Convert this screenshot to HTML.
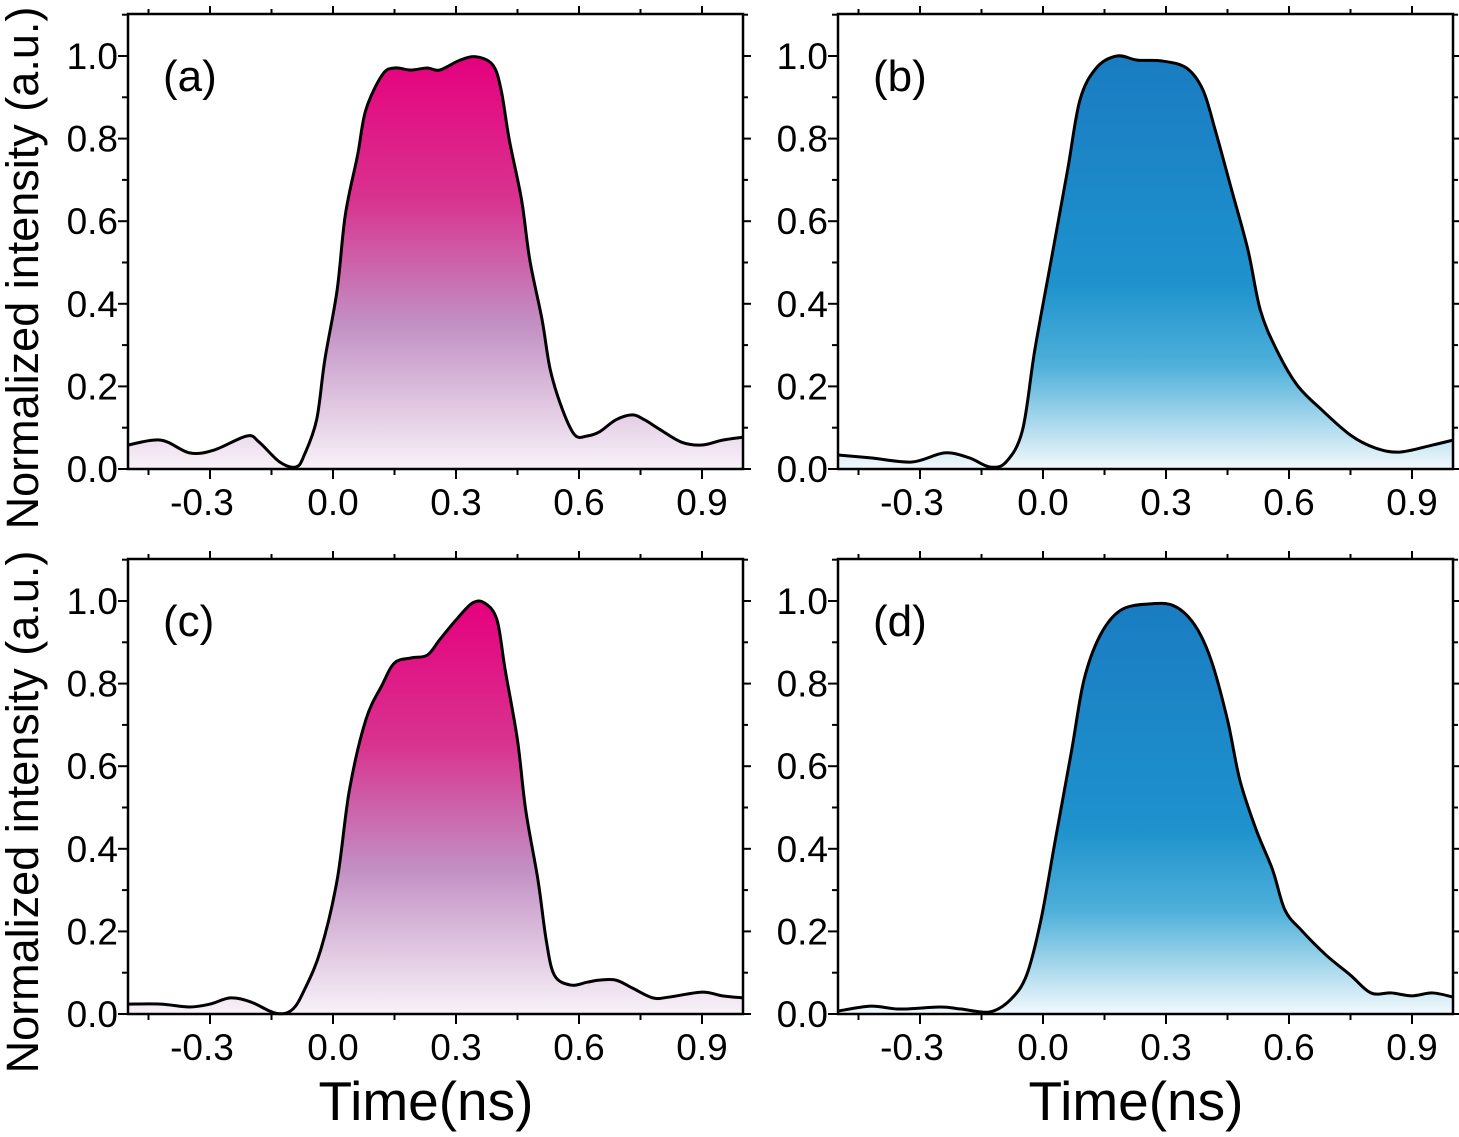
<!DOCTYPE html>
<html><head><meta charset="utf-8"><style>
body{margin:0;background:#fff}
svg{display:block;font-family:"Liberation Sans",sans-serif}
</style></head><body>
<svg id="chart" width="1459" height="1137">
<defs>
<linearGradient id="gPink" x1="0" y1="0" x2="0" y2="1">
<stop offset="0" stop-color="#e6007e"/><stop offset="0.35" stop-color="#d8348f"/><stop offset="0.65" stop-color="#c290c4"/><stop offset="1" stop-color="#f8f2f8"/></linearGradient>
<linearGradient id="gBlue" x1="0" y1="0" x2="0" y2="1">
<stop offset="0" stop-color="#1a7cc2"/><stop offset="0.55" stop-color="#1e92cd"/><stop offset="0.75" stop-color="#4fb0da"/><stop offset="1" stop-color="#f2f9fc"/></linearGradient>
</defs>
<text transform="translate(38,268) rotate(-90)" text-anchor="middle" font-size="45">Normalized intensity (a.u.)</text>
<text transform="translate(38,812) rotate(-90)" text-anchor="middle" font-size="45">Normalized intensity (a.u.)</text>
<text x="426" y="1120" text-anchor="middle" font-size="55">Time(ns)</text>
<text x="1136" y="1120" text-anchor="middle" font-size="55">Time(ns)</text>
</svg>
<script>
const tA=[-0.5,-0.42,-0.35,-0.29,-0.21,-0.18,-0.13,-0.09,-0.07,-0.04,-0.02,0.01,0.03,0.06,0.08,0.12,0.15,0.19,0.23,0.26,0.31,0.35,0.39,0.41,0.43,0.46,0.48,0.51,0.53,0.56,0.59,0.62,0.65,0.69,0.73,0.76,0.80,0.85,0.90,0.95,1.0];
const yA=[.058,.07,.039,.046,.08,.065,.017,.005,.034,.119,.264,.433,.615,.76,.869,.954,.971,.966,.971,.966,.99,.998,.978,.918,.797,.651,.506,.361,.24,.143,.082,.08,.09,.119,.131,.119,.094,.065,.058,.07,.077];
const tB=[-0.5,-0.42,-0.32,-0.24,-0.18,-0.13,-0.09,-0.05,-0.02,0.02,0.06,0.09,0.13,0.18,0.23,0.29,0.35,0.39,0.42,0.46,0.50,0.53,0.57,0.62,0.68,0.75,0.81,0.87,0.95,1.0];
const yB=[.034,.027,.017,.039,.027,.005,.017,.094,.288,.506,.724,.893,.971,1.0,.99,.988,.971,.918,.821,.676,.53,.385,.288,.203,.143,.082,.051,.041,.058,.07];
const tC=[-0.5,-0.42,-0.35,-0.30,-0.25,-0.2,-0.14,-0.1,-0.07,-0.03,0.01,0.04,0.08,0.12,0.15,0.19,0.23,0.26,0.30,0.34,0.37,0.40,0.42,0.45,0.47,0.50,0.52,0.54,0.58,0.62,0.65,0.69,0.73,0.78,0.82,0.90,0.95,1.0];
const yC=[.024,.024,.017,.024,.039,.029,.002,.01,.058,.155,.324,.542,.712,.797,.85,.862,.869,.906,.954,.995,.995,.954,.833,.663,.494,.324,.179,.094,.07,.077,.082,.082,.063,.039,.041,.053,.044,.039];
const tD=[-0.5,-0.42,-0.35,-0.25,-0.2,-0.13,-0.08,-0.04,-0.005,0.03,0.07,0.10,0.14,0.19,0.26,0.32,0.37,0.41,0.45,0.48,0.52,0.56,0.59,0.63,0.69,0.75,0.80,0.85,0.90,0.95,1.0];
const yD=[.007,.019,.012,.017,.012,.005,.034,.094,.228,.421,.639,.809,.918,.978,.993,.988,.942,.857,.712,.567,.446,.349,.252,.203,.143,.094,.051,.051,.044,.051,.041];
const xTicks=[-0.3,0.0,0.3,0.6,0.9];
const xTickLabels=["-0.3","0.0","0.3","0.6","0.9"];
const yTicks=[0,0.2,0.4,0.6,0.8,1.0];
const yTickLabels=["0.0","0.2","0.4","0.6","0.8","1.0"];
const panelLabels=["(a)","(b)","(c)","(d)"];
const svg=document.getElementById('chart');
const NS='http://www.w3.org/2000/svg';
function mk(tag,attrs,parent){const e=document.createElementNS(NS,tag);for(const k in attrs)e.setAttribute(k,attrs[k]);(parent||svg).appendChild(e);return e;}
const panels=[{t:tA,y:yA,L:128,B:469,g:'gPink'},{t:tB,y:yB,L:838,B:469,g:'gBlue'},{t:tC,y:yC,L:128,B:1014,g:'gPink'},{t:tD,y:yD,L:838,B:1014,g:'gBlue'}];
panels.forEach((p,i)=>{
  const W=615,H=455,x=v=>p.L+(v+0.5)*410,y=v=>p.B-v*413;
  const g=mk('g',{});
  
  
  let d='M'+x(p.t[0])+','+y(p.y[0]);
  for(let k=1;k<p.t.length;k++){
    const x0=x(p.t[k-1]),y0=y(p.y[k-1]),x1=x(p.t[k]),y1=y(p.y[k]);
    const xm=x(p.t[Math.max(0,k-2)]),ym=y(p.y[Math.max(0,k-2)]);
    const xn=x(p.t[Math.min(p.t.length-1,k+1)]),yn=y(p.y[Math.min(p.t.length-1,k+1)]);
    d+=' C'+(x0+(x1-xm)/6)+','+(y0+(y1-ym)/6)+' '+(x1-(xn-x0)/6)+','+(y1-(yn-y0)/6)+' '+x1+','+y1;
  }
  const area=mk('path',{d:d+' L'+x(p.t[p.t.length-1])+','+p.B+' L'+x(p.t[0])+','+p.B+'Z',fill:'url(#'+p.g+')'},g);
  
  
  const line=mk('path',{d:d,fill:'none',stroke:'#000','stroke-width':3},g);
  
  
  const frame=mk('rect',{x:p.L,y:p.B-H,width:W,height:H,fill:'none',stroke:'#000','stroke-width':2.5},g);
  
  
  for(let v=-0.45;v<1.0;v+=0.15){
    const X=x(v),major=xTicks.some(m=>Math.abs(m-v)<1e-6);
    mk('line',{x1:X,x2:X,y1:p.B,y2:p.B+(major?10:6),stroke:'#000','stroke-width':2},g);
    mk('line',{x1:X,x2:X,y1:p.B-H,y2:p.B-H-(major?8:5),stroke:'#000','stroke-width':2},g);
  }
  xTicks.forEach((v,k)=>{const t=mk('text',{x:x(v)-(v<0?8:0),y:p.B+46,'text-anchor':'middle','font-size':37},g);t.textContent=xTickLabels[k];
    
    });
  for(let v=0;v<=1.1;v+=0.1){
    const Y=y(v),major=Math.round(v*10)%2==0;
    mk('line',{x1:p.L,x2:p.L-(major?10:6),y1:Y,y2:Y,stroke:'#000','stroke-width':2},g);
    mk('line',{x1:p.L+W,x2:p.L+W+(major?8:5),y1:Y,y2:Y,stroke:'#000','stroke-width':2},g);
  }
  yTicks.forEach((v,k)=>{const t=mk('text',{x:p.L-10,y:y(v)+13,'text-anchor':'end','font-size':37},g);t.textContent=yTickLabels[k];
    
    });
  const lab=mk('text',{x:p.L+35,y:p.B-H+77,'font-size':44},g);lab.textContent=panelLabels[i];
  
  
});
</script>
</body></html>
